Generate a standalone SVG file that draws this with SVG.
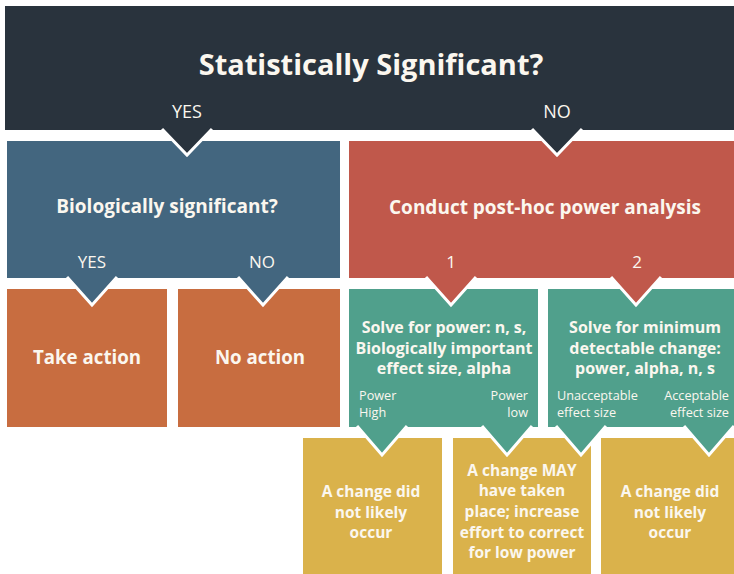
<svg xmlns="http://www.w3.org/2000/svg" width="734" height="574" viewBox="0 0 734 574">
<style>
.t{font-family:"Open Sans","Noto Sans","Liberation Sans",sans-serif;fill:#fbf7ef}
.c{text-anchor:middle}
.s{text-anchor:start}
.e{text-anchor:end}
.b{font-weight:700}
.r{font-weight:400}
.sm{font-size:12.7px;font-weight:400}
.edge{fill:none;stroke:#ffffff;stroke-width:3;stroke-linejoin:miter}
</style>
<rect width="734" height="574" fill="#ffffff"/>
<g id="stat">
<rect x="5" y="6" width="729" height="124" fill="#29333d"/>
<text class="t c b" x="371" y="75" font-size="29">Statistically Significant?</text>
<text class="t c r" x="187" y="118" font-size="18">YES</text>
<text class="t c r" x="557" y="118" font-size="18">NO</text>
</g>
<g id="bio">
<rect x="7" y="141" width="333" height="137" fill="#43667f"/>
<text class="t c b" x="167" y="213" font-size="19">Biologically significant?</text>
<text class="t c r" x="92" y="268" font-size="17">YES</text>
<text class="t c r" x="262" y="268" font-size="17">NO</text>
</g>
<g id="power">
<rect x="349" y="141" width="385" height="137" fill="#c0584b"/>
<text class="t c b" x="545" y="214" font-size="19">Conduct post-hoc power analysis</text>
<text class="t c r" x="451" y="268" font-size="17">1</text>
<text class="t c r" x="637" y="268" font-size="17">2</text>
</g>
<g id="take">
<rect x="7" y="289" width="160" height="138" fill="#c86d40"/>
<text class="t c b" x="87" y="364" font-size="18.7">Take action</text>
</g>
<g id="noaction">
<rect x="178" y="289" width="162" height="138" fill="#c86d40"/>
<text class="t c b" x="260" y="364" font-size="18.7">No action</text>
</g>
<g id="solve1">
<rect x="349" y="289" width="189" height="138" fill="#50a08c"/>
<text class="t c b" x="444" y="333" font-size="16">Solve for power: n, s,</text>
<text class="t c b" x="444" y="354" font-size="16">Biologically important</text>
<text class="t c b" x="444" y="374" font-size="16">effect size, alpha</text>
<text class="t s sm" x="359" y="400">Power</text>
<text class="t s sm" x="359" y="417">High</text>
<text class="t e sm" x="528" y="400">Power</text>
<text class="t e sm" x="528" y="417">low</text>
</g>
<g id="solve2">
<rect x="548" y="289" width="186" height="138" fill="#50a08c"/>
<text class="t c b" x="645" y="333" font-size="16">Solve for minimum</text>
<text class="t c b" x="645" y="354" font-size="16">detectable change:</text>
<text class="t c b" x="645" y="374" font-size="16">power, alpha, n, s</text>
<text class="t s sm" x="557" y="400">Unacceptable</text>
<text class="t s sm" x="557" y="417">effect size</text>
<text class="t e sm" x="729" y="400">Acceptable</text>
<text class="t e sm" x="729" y="417">effect size</text>
</g>
<g id="nochange1">
<rect x="303" y="438" width="139" height="136" fill="#dab24b"/>
<text class="t c b" x="371" y="497" font-size="15.5">A change did</text>
<text class="t c b" x="371" y="518" font-size="15.5">not likely</text>
<text class="t c b" x="371" y="538" font-size="15.5">occur</text>
</g>
<g id="maychange">
<rect x="453" y="438" width="138" height="136" fill="#dab24b"/>
<text class="t c b" x="522" y="476" font-size="15.5">A change MAY</text>
<text class="t c b" x="522" y="496" font-size="15.5">have taken</text>
<text class="t c b" x="522" y="517" font-size="15.5">place; increase</text>
<text class="t c b" x="522" y="538" font-size="15.5">effort to correct</text>
<text class="t c b" x="522" y="558" font-size="15.5">for low power</text>
</g>
<g id="nochange2">
<rect x="601" y="438" width="133" height="136" fill="#dab24b"/>
<text class="t c b" x="670" y="497" font-size="15.5">A change did</text>
<text class="t c b" x="670" y="518" font-size="15.5">not likely</text>
<text class="t c b" x="670" y="538" font-size="15.5">occur</text>
</g>
<g id="connectors">
<path d="M162 129 L187 155 L212 129 Z" fill="#29333d"/>
<polyline class="edge" points="162,129 187,155 212,129"/>
<path d="M532 129 L557 155 L582 129 Z" fill="#29333d"/>
<polyline class="edge" points="532,129 557,155 582,129"/>
<path d="M67 277 L92 305 L117 277 Z" fill="#43667f"/>
<polyline class="edge" points="67,277 92,305 117,277"/>
<path d="M238 277 L263 305 L288 277 Z" fill="#43667f"/>
<polyline class="edge" points="238,277 263,305 288,277"/>
<path d="M426 277 L451 305 L476 277 Z" fill="#c0584b"/>
<polyline class="edge" points="426,277 451,305 476,277"/>
<path d="M611 277 L636 305 L661 277 Z" fill="#c0584b"/>
<polyline class="edge" points="611,277 636,305 661,277"/>
<path d="M357 426 L382 455 L407 426 Z" fill="#50a08c"/>
<polyline class="edge" points="357,426 382,455 407,426"/>
<path d="M482 426 L507 455 L532 426 Z" fill="#50a08c"/>
<polyline class="edge" points="482,426 507,455 532,426"/>
<path d="M556 426 L581 455 L606 426 Z" fill="#50a08c"/>
<polyline class="edge" points="556,426 581,455 606,426"/>
<path d="M684 426 L709 455 L734 426 Z" fill="#50a08c"/>
<polyline class="edge" points="684,426 709,455 734,426"/>
</g>
</svg>
